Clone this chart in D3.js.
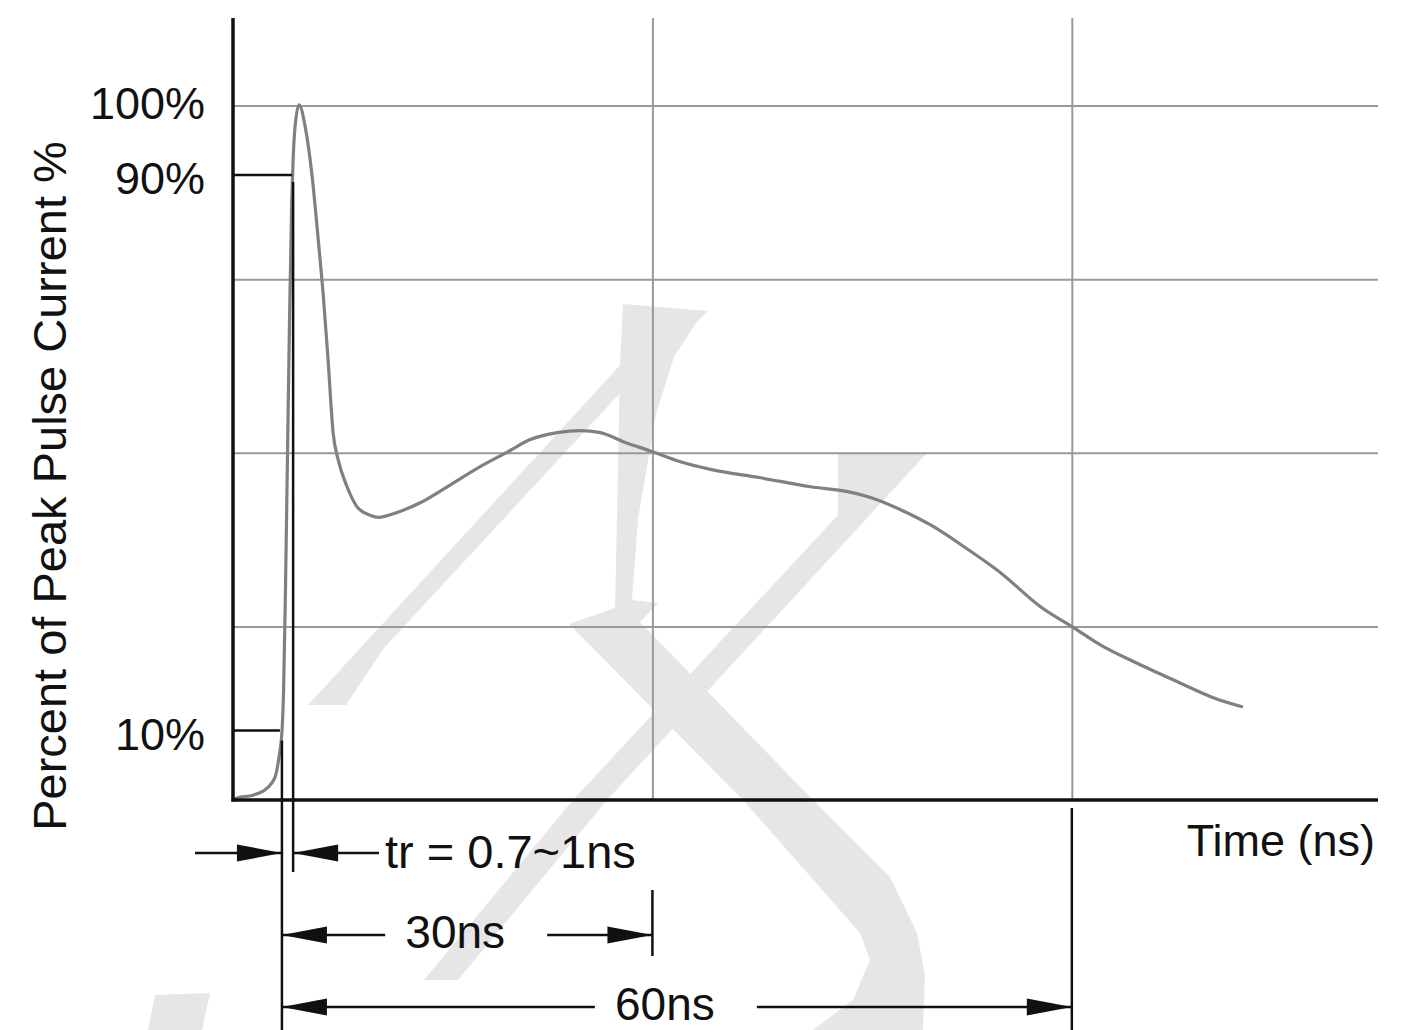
<!DOCTYPE html>
<html>
<head>
<meta charset="utf-8">
<script src="https://cdn.jsdelivr.net/npm/d3@7"></script>
<style>
	html, body { margin: 0; padding: 0; background: #fff; }
	text { font-family: "Liberation Sans", Arial, sans-serif; fill: #111; }
</style>
</head>
<body>
<div id="app"></div>
<script>

// waveform: time (ns) and percent of peak current
const timeNs = [0, 0.29, 1.43, 2.43, 3.01, 3.29, 3.51, 3.62, 3.75, 3.90, 4.05, 4.20, 4.30, 4.44, 4.73,
	5.16, 5.66, 6.01, 6.23, 6.44, 6.80, 7.16, 7.52, 8.16, 8.88, 9.81, 10.4, 11.74, 13.39, 15.32,
	17.68, 19.62, 21.26, 23.20, 24.84, 26.28, 27.92, 30.07, 32.0, 34.15, 37.73, 41.31, 43.96,
	46.11, 47.75, 49.90, 52.27, 54.92, 57.78, 60.07, 62.07, 64.44, 67.59, 70.17, 72.24];
const percent = [0, 0.3, 0.7, 1.7, 3.3, 6.2, 10.1, 16.0, 30.0, 50.0, 70.0, 86.0, 92.2, 97.0, 100.1,
	97.0, 89.8, 82.6, 77.8, 73.1, 63.4, 52.9, 49.0, 45.1, 42.2, 41.0, 40.7, 41.4, 42.8, 45.1,
	48.0, 50.1, 51.9, 52.9, 53.2, 52.9, 51.6, 50.1, 48.7, 47.6, 46.4, 45.1, 44.4,
	43.2, 41.8, 39.6, 36.5, 32.7, 27.8, 24.9, 22.3, 19.9, 17.0, 14.7, 13.4];

const gridPercent = [25, 50, 75, 100];
const gridTime = [30, 60];
const yTickValues = [100, 90, 10];
const yTickLabels = ['100%', '90%', '10%'];
const t10 = 3.5;   // 10% crossing
const t90 = 4.3;   // 90% crossing
const spans = [
	{ label: '30ns', end: 30 },
	{ label: '60ns', end: 60 }
];
const riseLabel = 'tr = 0.7~1ns';

const outerWidth = 1410,
	outerHeight = 1030;

const svg = d3.select('#app').append('svg')
	.attr('width', outerWidth)
	.attr('height', outerHeight);

const x = d3.scaleLinear().domain([0, 81.9]).range([233, 1378]);
const y = d3.scaleLinear().domain([0, 112.6]).range([800, 18]);

// background watermark (decoration, pixel space)
const watermark = [
	[[308,705],[623,362],[634,378],[384,648],[346,705]],
	[[623,304],[708,311],[696,323],[674,357],[656,414],[638,519],[632,600],[658,603],[640,622],[569,624],[615,608],[617,519],[620,366]],
	[[569,624],[640,622],[813,800],[890,877],[917,933],[925,975],[923,1030],[813,1030],[853,1000],[870,960],[860,933],[743,800]],
	[[838,453],[927,453],[607,800],[458,980],[424,980],[573,800],[838,515]],
	[[155,995],[210,993],[202,1030],[148,1030]]
];
svg.append('g').selectAll('polygon')
	.data(watermark)
	.enter().append('polygon')
		.attr('points', d => d.map(p => p.join(',')).join(' '))
		.attr('fill', '#e6e6e6');

// grid
svg.append('g')
	.attr('transform', `translate(${ x(0) },0)`)
	.call(d3.axisLeft(y).tickValues(gridPercent).tickSize(-(x.range()[1] - x.range()[0])).tickFormat(''))
	.call(g => g.select('.domain').remove())
	.call(g => g.selectAll('line').attr('stroke', '#999').attr('stroke-width', 2));
svg.append('g')
	.attr('transform', `translate(0,${ y(0) })`)
	.call(d3.axisBottom(x).tickValues(gridTime).tickSize(-(y.range()[0] - y.range()[1])).tickFormat(''))
	.call(g => g.select('.domain').remove())
	.call(g => g.selectAll('line').attr('stroke', '#999').attr('stroke-width', 2));

// waveform
const data = timeNs.map((t, i) => ({ t, p: percent[i] }));
svg.append('path')
	.datum(data)
	.attr('fill', 'none')
	.attr('stroke', '#808080')
	.attr('stroke-width', 3.2)
	.attr('stroke-linejoin', 'round')
	.attr('d', d3.line().x(d => x(d.t)).y(d => y(d.p)).curve(d3.curveMonotoneX));

// axes
const ink = '#111';
svg.append('line')
	.attr('x1', x(0)).attr('x2', x(0)).attr('y1', y(0) + 1.5).attr('y2', y.range()[1])
	.attr('stroke', ink).attr('stroke-width', 3.5);
svg.append('line')
	.attr('x1', x(0) - 1.5).attr('x2', x.range()[1]).attr('y1', y(0)).attr('y2', y(0))
	.attr('stroke', ink).attr('stroke-width', 3.5);

// 90% and 10% markers
const mark = svg.append('g').attr('stroke', ink).attr('stroke-width', 2.5);
mark.append('line').attr('x1', x(0)).attr('x2', x(t90) - 1).attr('y1', y(90)).attr('y2', y(90));
mark.append('line').attr('x1', x(t90)).attr('x2', x(t90)).attr('y1', y(90) + 7).attr('y2', 872);
mark.append('line').attr('x1', x(0)).attr('x2', x(t10) - 2).attr('y1', y(10)).attr('y2', y(10));
mark.append('line').attr('x1', x(t10)).attr('x2', x(t10)).attr('y1', y(10) + 10).attr('y2', 1030);

// y tick labels
const nudge = [-3, 3, 3];
svg.append('g').selectAll('text')
	.data(yTickValues)
	.enter().append('text')
		.attr('x', 205)
		.attr('y', (d, i) => y(d) + 16 + nudge[i])
		.attr('text-anchor', 'end')
		.attr('font-size', 45)
		.text((d, i) => yTickLabels[i]);

svg.append('text')
	.attr('transform', 'translate(66,486) rotate(-90)')
	.attr('text-anchor', 'middle')
	.attr('font-size', 47)
	.text('Percent of Peak Pulse Current %');

svg.append('text')
	.attr('x', 1375).attr('y', 856)
	.attr('text-anchor', 'end')
	.attr('font-size', 45)
	.text('Time (ns)');

// dimension arrows
function arrow (tipX, yy, dir) {
	const len = 45, half = 8.5;
	svg.append('polygon')
		.attr('points', [[tipX, yy], [tipX - dir * len, yy - half], [tipX - dir * len, yy + half]].map(p => p.join(',')).join(' '))
		.attr('fill', ink);
}
function hline (x1, x2, yy) {
	svg.append('line').attr('x1', x1).attr('x2', x2).attr('y1', yy).attr('y2', yy)
		.attr('stroke', ink).attr('stroke-width', 2.5);
}

// rise time row
const rowTr = 853;
hline(195, x(t10), rowTr);
arrow(x(t10), rowTr, 1);
hline(x(t90), 379, rowTr);
arrow(x(t90), rowTr, -1);
svg.append('text').attr('x', 385).attr('y', rowTr + 15).attr('font-size', 47).text(riseLabel);

// 30ns / 60ns rows
const rowY = [935, 1007];
spans.forEach((s, i) => {
	const yy = rowY[i],
		x1 = x(t10),
		x2 = x(s.end),
		mid = (x1 + x2) / 2 - 12;
	hline(x1, mid - 70, yy);
	hline(mid + 92, x2, yy);
	arrow(x1, yy, -1);
	arrow(x2, yy, 1);
	svg.append('text')
		.attr('x', mid).attr('y', yy + 13)
		.attr('text-anchor', 'middle')
		.attr('font-size', 46)
		.text(s.label);
});
svg.append('line').attr('x1', x(30)).attr('x2', x(30)).attr('y1', 890).attr('y2', 956)
	.attr('stroke', ink).attr('stroke-width', 2.5);
svg.append('line').attr('x1', x(60)).attr('x2', x(60)).attr('y1', 808).attr('y2', 1030)
	.attr('stroke', ink).attr('stroke-width', 2.5);

</script>
</body>
</html>
